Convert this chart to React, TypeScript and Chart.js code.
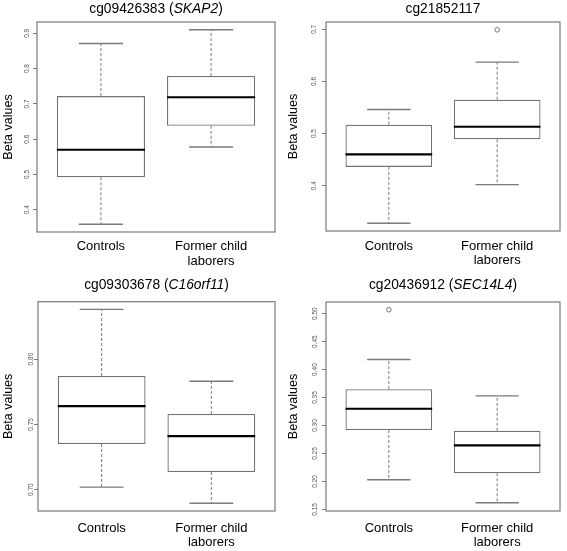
import React, { useEffect, useRef } from "react";
import { Chart, registerables } from "chart.js";

Chart.register(...registerables);

// ---- shared categories ----
const categories: (string | string[])[] = ["Controls", ["Former child", "laborers"]];
const categoryPositions = [1, 2];

// ---- panel 1: cg09426383 (SKAP2) ----
const p1Probe = "cg09426383";
const p1Gene = "SKAP2";
const p1WhiskerLow = [0.359, 0.578];
const p1Q1 = [0.492, 0.638];
const p1Median = [0.57, 0.719];
const p1Q3 = [0.722, 0.779];
const p1WhiskerHigh = [0.871, 0.91];
const p1Outliers: number[][] = [[], []];
const p1YTicks = [0.4, 0.5, 0.6, 0.7, 0.8, 0.9];
const p1YRange = [0.337, 0.932];

// ---- panel 2: cg21852117 ----
const p2Probe = "cg21852117";
const p2Gene = "";
const p2WhiskerLow = [0.328, 0.402];
const p2Q1 = [0.436, 0.489];
const p2Median = [0.46, 0.513];
const p2Q3 = [0.517, 0.565];
const p2WhiskerHigh = [0.546, 0.637];
const p2Outliers: number[][] = [[], [0.699]];
const p2YTicks = [0.4, 0.5, 0.6, 0.7];
const p2YRange = [0.313, 0.714];

// ---- panel 3: cg09303678 (C16orf11) ----
const p3Probe = "cg09303678";
const p3Gene = "C16orf11";
const p3WhiskerLow = [0.702, 0.6896];
const p3Q1 = [0.735, 0.7135];
const p3Median = [0.764, 0.741];
const p3Q3 = [0.787, 0.758];
const p3WhiskerHigh = [0.838, 0.783];
const p3Outliers: number[][] = [[], []];
const p3YTicks = [0.7, 0.75, 0.8];
const p3YRange = [0.6837, 0.8439];

// ---- panel 4: cg20436912 (SEC14L4) ----
const p4Probe = "cg20436912";
const p4Gene = "SEC14L4";
const p4WhiskerLow = [0.203, 0.162];
const p4Q1 = [0.292, 0.2147];
const p4Median = [0.33, 0.2645];
const p4Q3 = [0.365, 0.2906];
const p4WhiskerHigh = [0.418, 0.353];
const p4Outliers: number[][] = [[0.507], []];
const p4YTicks = [0.15, 0.2, 0.25, 0.3, 0.35, 0.4, 0.45, 0.5];
const p4YRange = [0.1472, 0.5208];

const yAxisTitle = "Beta values";

type PanelData = {
  probe: string;
  gene: string;
  lo: number[];
  q1: number[];
  med: number[];
  q3: number[];
  hi: number[];
  out: number[][];
  ticks: number[];
  range: number[];
  decimals: number;
};

const panelData: PanelData[] = [
  { probe: p1Probe, gene: p1Gene, lo: p1WhiskerLow, q1: p1Q1, med: p1Median, q3: p1Q3, hi: p1WhiskerHigh, out: p1Outliers, ticks: p1YTicks, range: p1YRange, decimals: 1 },
  { probe: p2Probe, gene: p2Gene, lo: p2WhiskerLow, q1: p2Q1, med: p2Median, q3: p2Q3, hi: p2WhiskerHigh, out: p2Outliers, ticks: p2YTicks, range: p2YRange, decimals: 1 },
  { probe: p3Probe, gene: p3Gene, lo: p3WhiskerLow, q1: p3Q1, med: p3Median, q3: p3Q3, hi: p3WhiskerHigh, out: p3Outliers, ticks: p3YTicks, range: p3YRange, decimals: 2 },
  { probe: p4Probe, gene: p4Gene, lo: p4WhiskerLow, q1: p4Q1, med: p4Median, q3: p4Q3, hi: p4WhiskerHigh, out: p4Outliers, ticks: p4YTicks, range: p4YRange, decimals: 2 },
];

// ---- layout (positions / sizes) ----
type PanelLayout = {
  left: number; top: number; w: number; h: number;
  pl: number; pt: number; pr: number; pb: number;
  xPad: number; yPad: number; titleTop: number;
};
const layouts: PanelLayout[] = [
  { left: 0, top: 0, w: 285, h: 275, pl: 37, pt: 22, pr: 275, pb: 232, xPad: 7.5, yPad: 1, titleTop: 2.3 },
  { left: 285, top: 0, w: 282, h: 275, pl: 41, pt: 22, pr: 275, pb: 231, xPad: 8, yPad: 3.7, titleTop: 2.3 },
  { left: 0, top: 275, w: 285, h: 276, pl: 38, pt: 26.7, pr: 275, pb: 236, xPad: 10, yPad: -3.7, titleTop: 3.3 },
  { left: 285, top: 275, w: 282, h: 276, pl: 41, pt: 27, pr: 275, pb: 236, xPad: 10, yPad: 0.1, titleTop: 3.3 },
];

const FONT = "'Liberation Sans', Arial, Helvetica, sans-serif";
const BOX_HALF = 0.4;
const CAP_HALF = 0.2;

const framePlugin = {
  id: "frame",
  afterDatasetsDraw(chart: any) {
    const { ctx, chartArea } = chart;
    ctx.save();
    ctx.strokeStyle = "#7a7a7a";
    ctx.lineWidth = 1.2;
    ctx.strokeRect(chartArea.left, chartArea.top, chartArea.right - chartArea.left, chartArea.bottom - chartArea.top);
    ctx.restore();
  },
};

function Panel({ d, L }: { d: PanelData; L: PanelLayout }) {
  const ref = useRef<HTMLCanvasElement | null>(null);

  useEffect(() => {
    if (!ref.current) return;
    const medianData: any[] = [];
    const whiskerData: any[] = [];
    const capData: any[] = [];
    const outData: any[] = [];
    const boxData: any[] = [];
    categoryPositions.forEach((x, i) => {
      boxData.push({ x, y: [d.q1[i], d.q3[i]] });
      medianData.push({ x: x - BOX_HALF, y: d.med[i] }, { x: x + BOX_HALF, y: d.med[i] }, { x, y: null });
      whiskerData.push(
        { x, y: d.q3[i] }, { x, y: d.hi[i] }, { x, y: null },
        { x, y: d.q1[i] }, { x, y: d.lo[i] }, { x, y: null }
      );
      capData.push(
        { x: x - CAP_HALF, y: d.hi[i] }, { x: x + CAP_HALF, y: d.hi[i] }, { x, y: null },
        { x: x - CAP_HALF, y: d.lo[i] }, { x: x + CAP_HALF, y: d.lo[i] }, { x, y: null }
      );
      d.out[i].forEach((v) => outData.push({ x, y: v }));
    });

    const chart = new Chart(ref.current, {
      type: "bar",
      data: {
        datasets: [
          {
            type: "line",
            data: medianData,
            borderColor: "#000",
            borderWidth: 2.1,
            pointRadius: 0,
            spanGaps: false,
          } as any,
          {
            type: "scatter",
            data: outData,
            pointRadius: 2.3,
            pointStyle: "circle",
            borderColor: "#555",
            backgroundColor: "rgba(0,0,0,0)",
            borderWidth: 0.8,
          } as any,
          {
            type: "line",
            data: capData,
            borderColor: "#7a7a7a",
            borderWidth: 1.4,
            pointRadius: 0,
            spanGaps: false,
          } as any,
          {
            type: "line",
            data: whiskerData,
            borderColor: "#7a7a7a",
            borderWidth: 1,
            borderDash: [3, 2],
            pointRadius: 0,
            spanGaps: false,
          } as any,
          {
            type: "bar",
            data: boxData,
            backgroundColor: "#ffffff",
            borderColor: "#737373",
            borderWidth: 1.3,
            borderSkipped: false,
            categoryPercentage: 1,
            barPercentage: 0.8,
          } as any,
        ],
      },
      options: {
        responsive: false,
        animation: false,
        devicePixelRatio: 1,
        events: [],
        layout: { padding: { top: L.pt, right: L.w - L.pr, left: 0, bottom: 0 } },
        plugins: {
          legend: { display: false },
          tooltip: { enabled: false },
          title: { display: false },
        },
        scales: {
          x: {
            type: "linear",
            min: 0.42,
            max: 2.58,
            offset: false,
            grid: { display: false, drawTicks: false },
            border: { display: false },
            afterBuildTicks: (s: any) => {
              s.ticks = categoryPositions.map((v) => ({ value: v }));
            },
            afterFit: (s: any) => {
              s.height = L.h - L.pb;
            },
            ticks: {
              autoSkip: false,
              maxRotation: 0,
              minRotation: 0,
              padding: L.xPad,
              color: "#000",
              font: { family: FONT, size: 13, lineHeight: 1.12 },
              callback: (v: any) => {
                const i = categoryPositions.indexOf(Number(v));
                return i >= 0 ? (categories[i] as any) : "";
              },
            },
          },
          y: {
            type: "linear",
            min: d.range[0],
            max: d.range[1],
            grid: { display: true, drawOnChartArea: false, drawTicks: true, tickLength: 4, color: "#7a7a7a", lineWidth: 1 },
            border: { display: false },
            afterBuildTicks: (s: any) => {
              s.ticks = d.ticks.map((v) => ({ value: v }));
            },
            afterFit: (s: any) => {
              s.width = L.pl;
            },
            title: {
              display: true,
              text: yAxisTitle,
              color: "#000",
              font: { family: FONT, size: 12.5 },
              padding: { top: 1, bottom: 0 },
            },
            ticks: {
              minRotation: 90,
              maxRotation: 90,
              crossAlign: "center",
              padding: L.yPad,
              color: "#555",
              font: { family: FONT, size: 6.5 },
              callback: (v: any) => Number(v).toFixed(d.decimals),
            },
          },
        },
      } as any,
      plugins: [framePlugin],
    });
    return () => chart.destroy();
  }, []);

  return (
    <>
      <canvas
        ref={ref}
        width={L.w}
        height={L.h}
        style={{ position: "absolute", left: L.left, top: L.top, width: L.w, height: L.h }}
      />
      <div
        style={{
          position: "absolute",
          left: L.left + L.pl,
          width: L.pr - L.pl,
          top: L.top + L.titleTop,
          textAlign: "center",
          fontFamily: FONT,
          fontSize: 13.8,
          lineHeight: "13.8px",
          color: "#000",
          whiteSpace: "nowrap",
        }}
      >
        {d.probe}
        {d.gene ? (
          <>
            {" ("}
            <i>{d.gene}</i>
            {")"}
          </>
        ) : null}
      </div>
    </>
  );
}

export default function App() {
  return (
    <div style={{ position: "absolute", left: 0, top: 0, width: 567, height: 551, background: "#fff", overflow: "hidden" }}>
      {panelData.map((d, i) => (
        <Panel key={i} d={d} L={layouts[i]} />
      ))}
    </div>
  );
}
